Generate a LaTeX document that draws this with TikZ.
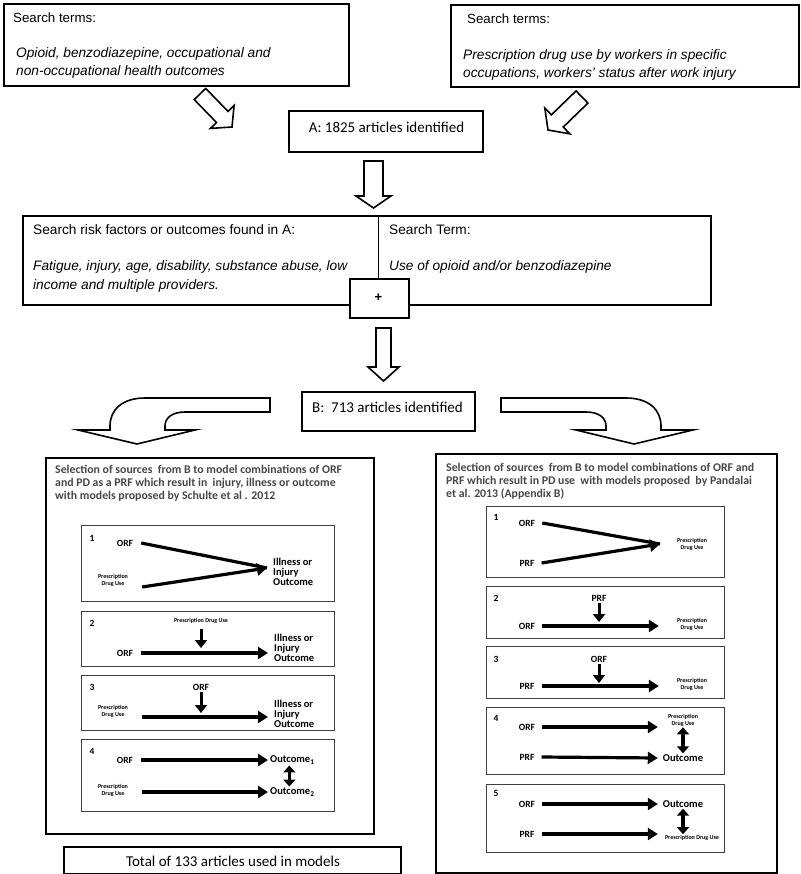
\documentclass[tikz,border=0pt]{standalone}
\usepackage{fontspec}
\setmainfont{Liberation Sans}
\newfontfamily\calfont{Carlito}
\usetikzlibrary{calc,arrows.meta}
\newcommand\blockarrow[5]{%
  \coordinate (#1#2h) at ($(#2)!#5!(#1)$);
  \draw[blk] ($(#1)!#3!90:(#2)$) -- ($(#1#2h)!#3!90:(#2)$) -- ($(#1#2h)!#4!90:(#2)$) -- (#2)
    -- ($(#1#2h)!#4!-90:(#2)$) -- ($(#1#2h)!#3!-90:(#2)$) -- ($(#1)!#3!-90:(#2)$) -- cycle;}
\newcommand\bx[6]{\node[#6, anchor=north west, minimum width={(#4-#2)*1pt}, minimum height={(#5-#3)*1pt}] (#1) at (#2,#3) {};}
\begin{document}
\begin{tikzpicture}[x=1pt,y=-1pt,
  obox/.style={draw, line width=1.8pt, inner sep=0pt},
  pbox/.style={draw, line width=1.8pt, inner sep=0pt},
  ibox/.style={draw=black!75, line width=1pt, inner sep=0pt},
  blk/.style={draw, line width=1.6pt, fill=white, line join=miter},
  tx/.style={font=\fontsize{13.3}{18}\selectfont, inner sep=0pt, anchor=base west, align=left},
  txi/.style={font=\itshape\fontsize{13.7}{18}\selectfont, inner sep=0pt, anchor=base west, align=left},
  cal/.style={font=\calfont\fontsize{15}{18}\selectfont, inner sep=0pt},
  hdr/.style={font=\calfont\bfseries\fontsize{11.8}{13}\selectfont, text=black!72, inner sep=0pt, anchor=base west, align=left},
  lab/.style={font=\calfont\bfseries\fontsize{9.5}{10}\selectfont, inner sep=0pt},
  tny/.style={font=\calfont\bfseries\fontsize{6}{7}\selectfont, inner sep=0pt, align=center},
  outn/.style={font=\calfont\bfseries\fontsize{10.5}{10}\selectfont, inner sep=0pt, align=left},
  harr/.style={line width=3.2pt, -{Triangle[length=10pt,width=12pt]}},
  varr/.style={line width=3pt, -{Triangle[length=8pt,width=12pt]}},
  dbl/.style={line width=3.2pt, {Triangle[length=7pt,width=12pt]}-{Triangle[length=7pt,width=12pt]}, shorten <=1pt, shorten >=1pt}
]
\useasboundingbox (0,0) rectangle (800,874);

% ---- top boxes ----
\bx{s1}{3}{3}{348}{85}{obox}
\node[tx] (s1a) at (13,23) {Search terms:};
\node[txi] (s1b) at (16,76) {Opioid, benzodiazepine, occupational and\\non-occupational health outcomes};

\bx{s2}{450}{4}{798}{86}{obox}
\node[tx] (s2a) at (467,24) {Search terms:};
\node[txi] (s2b) at (463,77.5) {Prescription drug use by workers in specific\\occupations, workers' status after work injury};

\coordinate (ar1s) at (200,94);
\coordinate (ar1e) at (232,127);
\blockarrow{ar1s}{ar1e}{8pt}{16.5pt}{14pt}
\coordinate (ar2s) at (582,97);
\coordinate (ar2e) at (548,130);
\blockarrow{ar2s}{ar2e}{8.5pt}{18pt}{13pt}

% ---- A box ----
\bx{A}{288}{110}{482}{151}{obox}
\node[cal] (At) at (386.5,127) {A: 1825 articles identified};

\coordinate (ar3s) at (373.5,161);
\coordinate (ar3e) at (373.5,208);
\blockarrow{ar3s}{ar3e}{9.5pt}{17.5pt}{12pt}

% ---- middle box ----
\bx{M}{22}{215}{710}{304}{obox}
\draw[line width=1.8pt] (378.5,215) -- (378.5,278);
\node[tx, font=\fontsize{13.7}{18}\selectfont] (Ma) at (33,235) {Search risk factors or outcomes found in A:};
\node[txi] (Mb) at (33,289) {Fatigue, injury, age, disability, substance abuse, low\\income and multiple providers.};
\node[tx, font=\fontsize{13.7}{18}\selectfont] (Mc) at (389,235) {Search Term:};
\node[txi] (Md) at (389,271) {Use of opioid and/or benzodiazepine};
\bx{P}{349}{278}{408}{317}{obox, fill=white}
\node[font=\bfseries\fontsize{13}{13}\selectfont, inner sep=0pt] (Pt) at (378.5,298) {+};

\coordinate (ar4s) at (383.5,328);
\coordinate (ar4e) at (383.5,381);
\blockarrow{ar4s}{ar4e}{7.5pt}{15.5pt}{14pt}

% ---- B box ----
\bx{B}{301}{391}{474}{430}{obox}
\node[cal] (Bt) at (387.5,407) {B:\ \ 713 articles identified};

% curved arrows
\draw[blk] (270,398) -- (145,398) .. controls (122,398) and (110,410) .. (110,426) -- (110,430)
  -- (78,430) -- (137,444) -- (195,430) -- (165,430) -- (165,426)
  .. controls (165,418) and (172,412) .. (185,412) -- (270,412) -- cycle;
\draw[blk] (501,398) -- (626,398) .. controls (649,398) and (661,410) .. (661,426) -- (661,430)
  -- (693,430) -- (634,444) -- (576,430) -- (606,430) -- (606,426)
  .. controls (606,418) and (599,412) .. (586,412) -- (501,412) -- cycle;

% ---- left panel ----
\bx{LP}{45}{457}{373}{833}{pbox}
\node[hdr] (LPh) at (55,499) {Selection of sources\ \ from B to model combinations of ORF\\and PD as a PRF which result in\ \ injury, illness or outcome\\with models proposed by Schulte et al . 2012};

\bx{L1}{81}{525}{334}{601}{ibox}
\node[lab] (l1n) at (92,538) {1};
\node[lab] (l1a) at (125,543) {ORF};
\node[tny] (l1b) at (113,580) {Prescription\\Drug Use};
\node[outn, anchor=west] (l1c) at (273,572) {Illness or\\Injury\\Outcome};
\coordinate (l1m) at (267,568);
\draw[line width=3.2pt] ([xshift=8pt]l1a.east) -- (l1m);
\draw[harr] ([xshift=14pt,yshift=-7pt]l1b.east) -- (l1m);

\bx{L2}{81}{611}{334}{666}{ibox}
\node[lab] (l2n) at (92,623) {2};
\node[tny] (l2p) at (201,621) {Prescription Drug Use};
\node[lab] (l2o) at (125,653) {ORF};
\node[outn, anchor=west] (l2c) at (274,648) {Illness or\\Injury\\Outcome};
\coordinate (l2d) at (201,648);
\draw[varr] ([yshift=-5pt]l2p.south) -- (l2d);
\draw[harr] ([xshift=8pt]l2o.east) -- ([xshift=-6pt,yshift=-5pt]l2c.west);

\bx{L3}{81}{675}{334}{730}{ibox}
\node[lab] (l3n) at (92,687) {3};
\node[lab] (l3o) at (201,687) {ORF};
\node[tny] (l3p) at (113,711) {Prescription\\Drug Use};
\node[outn, anchor=west] (l3c) at (274,714) {Illness or\\Injury\\Outcome};
\coordinate (l3d) at (201,713);
\draw[varr] ([yshift=-2pt]l3o.south) -- (l3d);
\draw[harr] ([xshift=14pt,yshift=-6pt]l3p.east) -- ([xshift=-6pt,yshift=-3pt]l3c.west);

\bx{L4}{81}{739}{334}{811}{ibox}
\node[lab] (l4n) at (92,751) {4};
\node[lab] (l4o) at (125,760) {ORF};
\node[tny] (l4p) at (113,790) {Prescription\\Drug Use};
\node[outn, anchor=west] (l4c) at (270,760) {Outcome\textsubscript{1}};
\node[outn, anchor=west] (l4d) at (270,792) {Outcome\textsubscript{2}};
\draw[harr] ([xshift=8pt]l4o.east) -- ([xshift=-2pt]l4c.west);
\draw[harr] ([xshift=14pt,yshift=-2pt]l4p.east) -- ([xshift=-2pt]l4d.west);
\draw[dbl] ([xshift=-3pt]l4c.south) -- ([xshift=-3pt]l4d.north);

\bx{T}{63}{846}{400}{873}{obox}
\node[cal] (Tt) at (233,861) {Total of 133 articles used in models};

% ---- right panel ----
\bx{RP}{435}{453}{776}{872}{pbox}
\node[hdr] (RPh) at (446,497) {Selection of sources\ \ from B to model combinations of ORF and\\PRF which result in PD use\ \ with models proposed\ \ by Pandalai\\et al. 2013 (Appendix B)};

\bx{R1}{486}{506}{724}{577}{ibox}
\node[lab] (r1n) at (496,517) {1};
\node[lab] (r1o) at (527,523) {ORF};
\node[lab] (r1p) at (527,563) {PRF};
\node[tny] (r1c) at (692,544) {Prescription\\Drug Use};
\coordinate (r1m) at (660,544);
\draw[line width=3.2pt] ([xshift=7pt]r1o.east) -- (r1m);
\draw[harr] ([xshift=7pt]r1p.east) -- (r1m);

\bx{R2}{486}{586}{724}{638}{ibox}
\node[lab] (r2n) at (496,598) {2};
\node[lab] (r2t) at (599,598) {PRF};
\node[lab] (r2o) at (527,626) {ORF};
\node[tny] (r2c) at (692,624) {Prescription\\Drug Use};
\coordinate (r2d) at (599,622);
\draw[varr] ([yshift=-2pt]r2t.south) -- (r2d);
\draw[harr] ([xshift=7pt]r2o.east) -- ([xshift=-18pt,yshift=-2pt]r2c.west);

\bx{R3}{486}{646}{724}{698}{ibox}
\node[lab] (r3n) at (496,659) {3};
\node[lab] (r3t) at (599,659) {ORF};
\node[lab] (r3o) at (527,686) {PRF};
\node[tny] (r3c) at (692,684) {Prescription\\Drug Use};
\coordinate (r3d) at (599,683);
\draw[varr] ([yshift=-2pt]r3t.south) -- (r3d);
\draw[harr] ([xshift=7pt]r3o.east) -- ([xshift=-18pt,yshift=-2pt]r3c.west);

\bx{R4}{486}{707}{724}{774}{ibox}
\node[lab] (r4n) at (496,718) {4};
\node[lab] (r4o) at (527,727) {ORF};
\node[lab] (r4p) at (527,757) {PRF};
\node[tny] (r4c) at (683,720) {Prescription\\Drug Use};
\node[outn] (r4d) at (683,758) {Outcome};
\draw[harr] ([xshift=7pt]r4o.east) -- ([xshift=-10pt,yshift=-7pt]r4c.west);
\draw[harr] ([xshift=7pt]r4p.east) -- ([xshift=-5pt]r4d.west);
\draw[dbl] (r4c.south) -- (r4d.north);

\bx{R5}{486}{784}{724}{852}{ibox}
\node[lab] (r5n) at (496,793) {5};
\node[lab] (r5o) at (527,804) {ORF};
\node[lab] (r5p) at (527,834) {PRF};
\node[outn] (r5c) at (683,804) {Outcome};
\node[tny] (r5d) at (692,838) {Prescription Drug Use};
\draw[harr] ([xshift=7pt]r5o.east) -- ([xshift=-5pt]r5c.west);
\draw[harr] ([xshift=7pt]r5p.east) -- ([xshift=-7pt,yshift=4pt]r5d.west);
\draw[dbl] (r5c.south) -- ([xshift=-9pt]r5d.north);
\end{tikzpicture}
\end{document}
